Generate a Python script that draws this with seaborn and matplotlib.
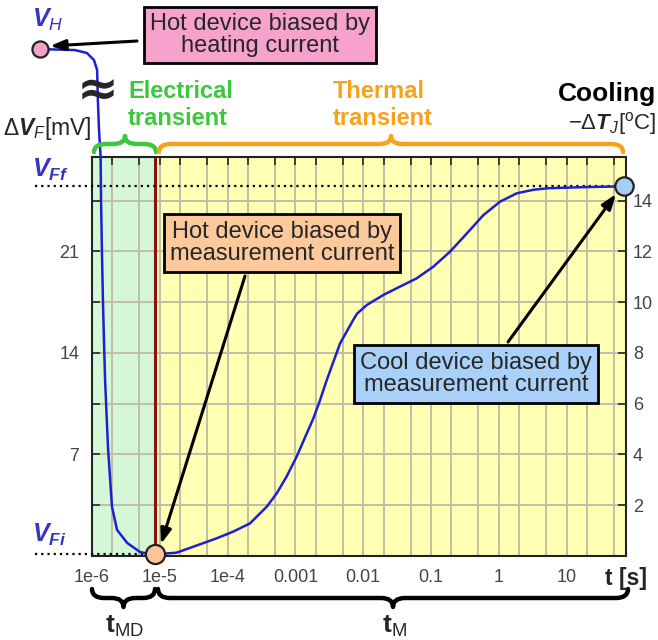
import matplotlib
matplotlib.use("Agg")
import matplotlib.pyplot as plt
import seaborn as sns
import pandas as pd
from matplotlib.path import Path
from matplotlib.patches import PathPatch
from matplotlib.transforms import blended_transform_factory
from matplotlib.ticker import NullFormatter

# heating phase (off-scale, drawn above the axes)
hot_t = [1.7e-7, 5.6e-7, 8.4e-7, 1.07e-6, 1.19e-6, 1.22e-6, 1.27e-6]
hot_v = [34.94, 34.87, 34.67, 34.18, 33.49, 31.43, 29.36]

# measured cooling curve, t in s, dVF in mV
meas_t = [1.34e-6, 1.36e-6, 1.40e-6, 1.45e-6, 1.50e-6, 1.56e-6, 1.72e-6, 1.97e-6, 2.34e-6, 3.3e-6, 5.1e-6, 7.9e-6,
          9.0e-6, 1.77e-5, 3.12e-5, 6.9e-5, 1.21e-4, 2.14e-4, 3.78e-4, 5.3e-4, 7.4e-4, 1.04e-3,
          1.47e-3, 1.84e-3, 2.31e-3, 2.90e-3, 4.55e-3, 7.1e-3, 8.1e-3, 1.13e-2, 1.98e-2, 3.49e-2,
          6.15e-2, 0.108, 0.19, 0.337, 0.59, 1.04, 1.84, 3.23, 5.37, 17.4, 55, 68]
meas_v = [27.5, 24.5, 21.1, 17.6, 14.9, 12.1, 7.5, 3.4, 1.8, 0.9, 0.28, 0.07,
          0.12, 0.23, 0.64, 1.22, 1.68, 2.25, 3.40, 4.32, 5.47, 6.84,
          8.45, 9.49, 10.75, 12.13, 14.65, 16.26, 16.7, 17.30, 17.99, 18.57,
          19.14, 19.94, 20.97, 22.23, 23.49, 24.42, 25.0, 25.24, 25.35, 25.42, 25.47, 25.5]

t_h, v_h = 1.7e-7, 34.94
t_md, v_fi = 8.5e-6, 0.15
t_end, v_ff = 70, 25.5
mv_per_degc = 1.75

x_ticks = [1e-6, 1e-5, 1e-4, 1e-3, 1e-2, 1e-1, 1, 10]
x_labels = ["1e-6", "1e-5", "1e-4", "0.001", "0.01", "0.1", "1", "10"]
x_minor = [m * d for d in [1e-6, 1e-5, 1e-4, 1e-3, 1e-2, 1e-1, 1, 10] for m in (2, 5)]
mv_ticks = [3.5, 7, 10.5, 14, 17.5, 21, 24.5]
mv_labels = ["", "7", "", "14", "", "21", ""]
degc_ticks = [2, 4, 6, 8, 10, 12, 14]

sns.set_style("white")
plt.rcParams["font.family"] = ["Liberation Sans", "DejaVu Sans"]
plt.rcParams["mathtext.fontset"] = "custom"
plt.rcParams["mathtext.rm"] = "Liberation Sans"
plt.rcParams["mathtext.it"] = "Liberation Sans:italic"
plt.rcParams["mathtext.bf"] = "Liberation Sans:bold"
plt.rcParams["mathtext.bfit"] = "Liberation Sans:bold:italic"

W, H = 658, 640
fig = plt.figure(figsize=(W / 100, H / 100), dpi=100)
ax = fig.add_axes([92 / W, 84 / H, 534 / W, 399 / H])
ax.set_xscale("log")
ax.set_xlim(1e-6, 75)
ax.set_ylim(0, 27.5)
ax.set_axisbelow(True)

# background regions and the t_MD marker
ax.axvspan(1e-6, t_md, color="#d6f7d6", zorder=0, lw=0)
ax.axvspan(t_md, 75, color="#ffffb4", zorder=0, lw=0)
ax.axvline(t_md, color="#8b1010", lw=2.2, zorder=2.5)

df = pd.DataFrame({"t": hot_t + meas_t, "v": hot_v + meas_v})
sns.lineplot(data=df, x="t", y="v", ax=ax, color="#1f1fd2", lw=1.8, sort=False,
             estimator=None, clip_on=False, zorder=4)

# reference levels
blend = blended_transform_factory(ax.transAxes, ax.transData)
ax.plot([-0.107, 0.99], [v_ff, v_ff], transform=blend, clip_on=False, color="k", lw=1.6,
        dashes=(1, 1.8), zorder=3)
ax.plot([-0.107, 0.11], [v_fi, v_fi], transform=blend, clip_on=False, color="k", lw=1.6,
        dashes=(1, 1.8), zorder=3)

ax.scatter([t_h], [v_h], s=135, color="#f4a3c8", edgecolor="#222", lw=1.6, clip_on=False, zorder=6)
ax.scatter([t_md], [v_fi], s=190, color="#fbc596", edgecolor="#222", lw=1.6, clip_on=False, zorder=6)
ax.scatter([t_end], [v_ff], s=175, color="#a6cdf5", edgecolor="#222", lw=1.6, clip_on=False, zorder=6)

ax.set_xticks(x_ticks, x_labels)
ax.set_xticks(x_minor, minor=True)
ax.xaxis.set_minor_formatter(NullFormatter())
ax.set_yticks(mv_ticks, mv_labels)
ax.grid(which="both", axis="x", color="#c0bea6", lw=1.4)
ax.grid(which="major", axis="y", color="#c0bea6", lw=1.4)
ax.tick_params(axis="x", which="both", direction="in", top=True, length=6, width=1.2,
               labelsize=13, labelcolor="#444", pad=9)
ax.tick_params(axis="y", direction="in", length=6, width=1.2, labelsize=13, labelcolor="#444", pad=9)
ax.set_xlabel("")
ax.set_ylabel("")
for s in ax.spines.values():
    s.set_color("#222")
    s.set_linewidth(1.5)

ax2 = ax.twinx()
ax2.set_ylim(0, 27.5 / mv_per_degc)
ax2.set_yticks(degc_ticks, [str(d) for d in degc_ticks])
ax2.tick_params(axis="y", direction="in", length=6, width=1.2, labelsize=13, labelcolor="#444", pad=5)
ax2.grid(False)
for s in ax2.spines.values():
    s.set_visible(False)

# overlay in pixel coordinates for the annotations
ov = fig.add_axes([0, 0, 1, 1])
ov.set_xlim(0, W)
ov.set_ylim(H, 0)
ov.axis("off")
ov.patch.set_alpha(0)


def brace(x0, x1, y_end, y_tip, color):
    xm = (x0 + x1) / 2
    yb = (y_end + y_tip) / 2
    r = min(12, (x1 - x0) / 4)
    verts = [(x0, y_end), (x0, yb), (x0 + r, yb), (xm - r, yb), (xm, yb), (xm, y_tip),
             (xm, yb), (xm + r, yb), (x1 - r, yb), (x1, yb), (x1, y_end)]
    codes = [Path.MOVETO, Path.CURVE3, Path.CURVE3, Path.LINETO, Path.CURVE3, Path.CURVE3,
             Path.CURVE3, Path.CURVE3, Path.LINETO, Path.CURVE3, Path.CURVE3]
    ov.add_patch(PathPatch(Path(verts, codes), fill=False, edgecolor=color, lw=3.2,
                           capstyle="round", joinstyle="round"))


green = "#3cc83c"
orange = "#f5a21e"
blue_txt = "#3535c4"

brace(94, 156, 152, 136, green)
brace(159, 623, 152, 136, orange)
brace(92, 155, 589, 607, "k")
brace(158, 628, 589, 607, "k")

ov.text(128, 105, "Electrical\ntransient", color=green, fontsize=17, fontweight="bold", ha="left", va="center")
ov.text(333, 105, "Thermal\ntransient", color=orange, fontsize=17, fontweight="bold", ha="left", va="center")
ov.text(656, 94, "Cooling", color="k", fontsize=19, fontweight="bold", ha="right", va="center")
ov.text(656, 124, r"$-\Delta\mathbfit{T}_{\mathit{J}}$[$^{\mathrm{o}}$C]", fontsize=16, ha="right", va="center")
ov.text(3, 129, r"$\Delta\mathbfit{V}_{\mathit{F}}$[mV]", fontsize=16.5, ha="left", va="center")
ov.text(32, 20, r"$\mathbfit{V}_{\mathit{H}}$", color=blue_txt, fontsize=18, ha="left", va="center")
ov.text(32, 170, r"$\mathbfit{V}_{\mathbfit{Ff}}$", color=blue_txt, fontsize=18, ha="left", va="center")
ov.text(32, 535, r"$\mathbfit{V}_{\mathbfit{Fi}}$", color=blue_txt, fontsize=18, ha="left", va="center")
ov.text(98, 91, "\u2248", fontsize=36, fontweight="bold", ha="center", va="center", family="DejaVu Sans")
ov.text(124, 626, r"$\mathbf{t}_{\mathrm{MD}}$", fontsize=19, ha="center", va="center")
ov.text(394, 626, r"$\mathbf{t}_{\mathrm{M}}$", fontsize=19, ha="center", va="center")
ov.text(626, 578, "t [s]", fontsize=16.5, fontweight="bold", ha="center", va="center")

box_kw = dict(boxstyle="square,pad=0.26", edgecolor="k", lw=2)
ov.text(260, 35, "Hot device biased by\nheating current", fontsize=17, ha="center", va="center",
        linespacing=1.0, bbox=dict(facecolor="#f7a1cd", **box_kw), zorder=8)
ov.text(282, 243, "Hot device biased by\nmeasurement current", fontsize=17, ha="center", va="center",
        linespacing=1.05, bbox=dict(facecolor="#fcc99c", **box_kw), zorder=8)
ov.text(476, 374, "Cool device biased by\nmeasurement current", fontsize=17, ha="center", va="center",
        linespacing=1.05, bbox=dict(facecolor="#a8d0f8", **box_kw), zorder=8)

arrow_kw = dict(arrowstyle="-|>,head_length=0.9,head_width=0.32", lw=2.2, color="k", shrinkA=0, shrinkB=0)
ov.annotate("", xy=(50, 46), xytext=(137, 41), arrowprops=arrow_kw)
ov.annotate("", xy=(161, 544), xytext=(245, 276), arrowprops=arrow_kw)
ov.annotate("", xy=(616, 194), xytext=(508, 342), arrowprops=arrow_kw)

fig.savefig("out.png", dpi=100)
